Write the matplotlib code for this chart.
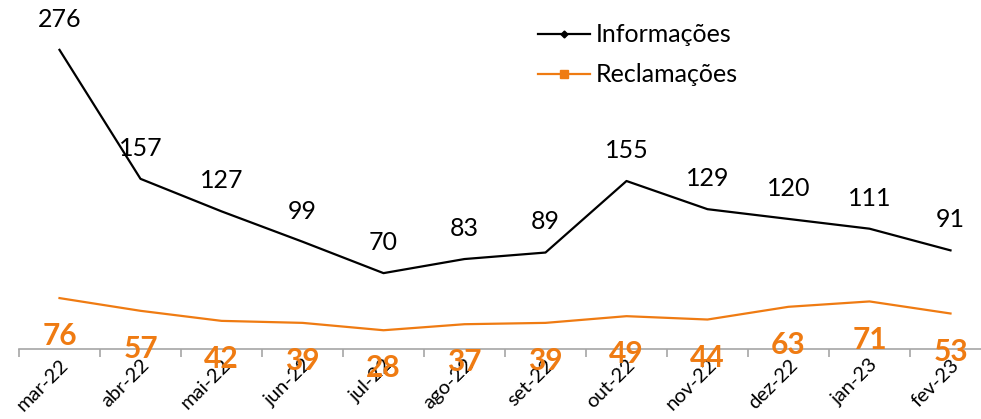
import matplotlib
matplotlib.use("Agg")
import matplotlib.pyplot as plt
from matplotlib.lines import Line2D

months = ["mar-22", "abr-22", "mai-22", "jun-22", "jul-22", "ago-22",
          "set-22", "out-22", "nov-22", "dez-22", "jan-23", "fev-23"]
informacoes = [276, 157, 127, 99, 70, 83, 89, 155, 129, 120, 111, 91]
reclamacoes = [76, 57, 42, 39, 28, 37, 39, 49, 44, 63, 71, 53]

ORANGE = "#EF7B12"
FONT = "Lato"

W, H = 981, 419
fig = plt.figure(figsize=(W / 100, H / 100), dpi=100)
ax = fig.add_axes([19 / W, (H - 349) / H, 972 / W, 349 / H])
ax2 = ax.twinx()

x = list(range(len(months)))
ax.plot(x, informacoes, color="black", lw=1.6, zorder=3)
ax2.plot(x, reclamacoes, color=ORANGE, lw=1.6, zorder=3)

ax.set_xlim(-0.5, 11.5)
ax.set_ylim(0, 322)
ax2.set_ylim(0, 521)

for xi, v in zip(x, informacoes):
    ax.annotate(str(v), (xi, v), xytext=(0, 22), textcoords="offset points",
                ha="center", va="center", fontsize=18, family=FONT, color="black")
for xi, v in zip(x, reclamacoes):
    ax2.annotate(str(v), (xi, v), xytext=(0, -27.5), textcoords="offset points",
                 ha="center", va="center", fontsize=21.5, family=FONT,
                 fontweight="bold", color=ORANGE)

for a in (ax, ax2):
    for s in ("top", "right", "left"):
        a.spines[s].set_visible(False)
    a.set_yticks([])
ax2.spines["bottom"].set_visible(False)
ax.spines["bottom"].set_color("#A6A6A6")
ax.spines["bottom"].set_linewidth(1.2)

ax.set_xticks(x)
ax.set_xticklabels(months, rotation=45, ha="right", rotation_mode="anchor",
                   fontsize=14.5, family=FONT)
ax.tick_params(axis="x", which="major", length=0, pad=5)
ax.set_xticks([i - 0.5 for i in range(len(months) + 1)], minor=True)
ax.tick_params(axis="x", which="minor", length=6, width=1.2, color="#A6A6A6")

handles = [Line2D([0], [0], color="black", lw=1.6, marker="D", markersize=3.5),
           Line2D([0], [0], color=ORANGE, lw=1.6, marker="s", markersize=5.5)]
leg = fig.legend(handles, ["Informações", "Reclamações"], loc="upper left",
                 bbox_to_anchor=(515 / W, 1 - 1 / H), frameon=False,
                 prop={"family": FONT, "size": 18}, handlelength=2.1,
                 handletextpad=0.25, labelspacing=0.68)

fig.savefig("out.png", dpi=100)
